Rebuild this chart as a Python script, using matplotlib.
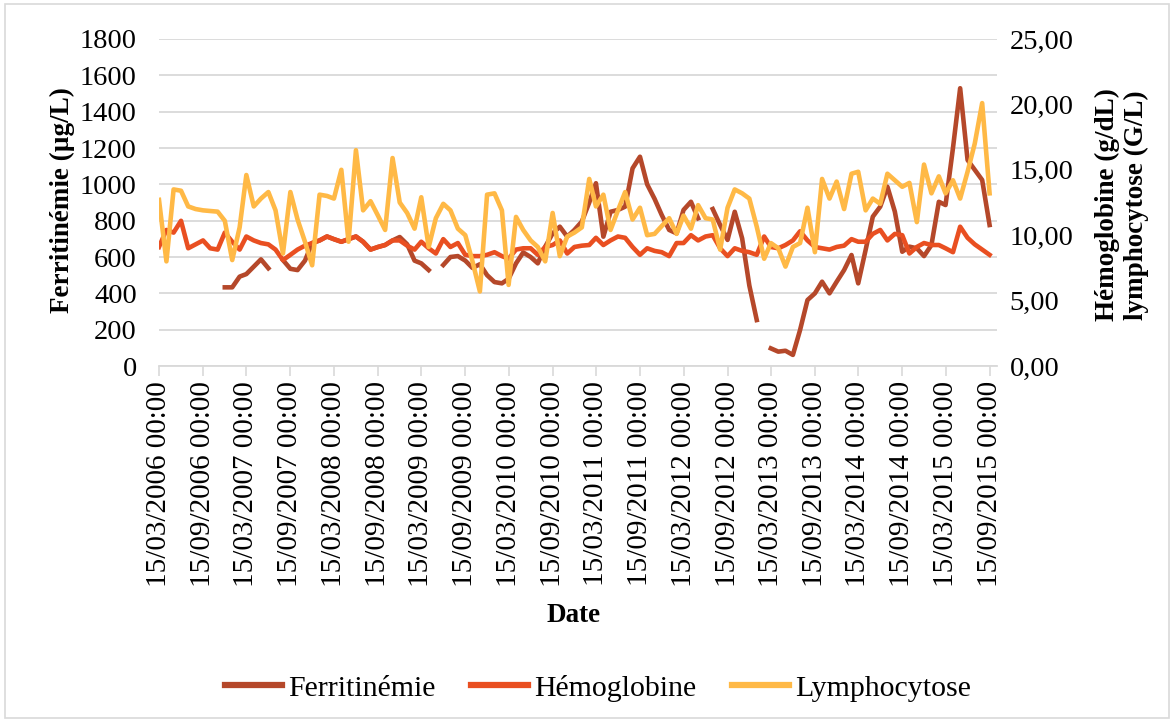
import numpy as np
import pandas as pd
import matplotlib
matplotlib.use('Agg')
import matplotlib.pyplot as plt
import matplotlib.dates as mdates
from matplotlib.ticker import FuncFormatter, MultipleLocator
from matplotlib.patches import Rectangle

# %% data (monthly values, from 15/03/2006)
nan = np.nan

ferritinemie = [
    nan, nan, nan, nan, nan, nan, nan, nan, nan, 433,
    433, 492, 506, 547, 587, 538, nan, 583, 535, 528,
    580, 677, 691, 713, 698, 684, 698, 713, 684, 641,
    655, 666, 691, 710, 670, 580, 565, 528, nan, 556,
    600, 605, 580, 540, 560, 500, 462, 455, 480, 565,
    625, 600, 565, 657, 730, 767, 712, 749, 795, 900,
    1006, 712, 849, 859, 877, 1088, 1152, 1000, 920, 831,
    749, 730, 859, 904, 813, nan, 864, 776, 694, 849,
    702, 443, 253, nan, 97, 79, 84, 61, 198, 363,
    400, 464, 400, 464, 528, 611, 455, 639, 822, 877,
    987, 850, 629, 657, 648, 605, 666, 904, 886, 1200,
    1529, 1134, 1080, 1024, 776,
]

hemoglobine = [
    9.1, 10.4, 10.2, 11.1, 9.0, 9.3, 9.6, 9.0, 8.9, 10.2,
    9.5, 8.9, 9.9, 9.6, 9.4, 9.3, 8.9, 8.1, 8.5, 8.9,
    9.2, 9.4, 9.6, 9.9, 9.7, 9.5, 9.7, 9.9, 9.5, 8.9,
    9.1, 9.25, 9.6, 9.6, 9.2, 8.9, 9.5, 9.0, 8.6, 9.7,
    9.1, 9.4, 8.5, 8.4, 8.4, 8.5, 8.7, 8.4, 8.2, 8.9,
    9.0, 9.0, 8.5, 9.1, 9.25, 9.6, 8.6, 9.1, 9.2, 9.25,
    9.8, 9.25, 9.6, 9.9, 9.8, 9.1, 8.5, 9.0, 8.8, 8.7,
    8.4, 9.4, 9.4, 10.0, 9.6, 9.9, 10.0, 9.0, 8.4, 9.0,
    8.8, 8.7, 8.5, 9.9, 9.1, 9.0, 9.25, 9.6, 10.3, 9.6,
    9.1, 9.0, 8.9, 9.1, 9.2, 9.7, 9.5, 9.5, 10.1, 10.4,
    9.6, 10.1, 10.0, 8.6, 9.1, 9.4, 9.25, 9.25, 9.0, 8.7,
    10.65, 9.8, 9.3, 8.9, 8.5,
]

lymphocytose = [
    12.7, 8.0, 13.5, 13.4, 12.2, 12.0, 11.9, 11.85, 11.8, 11.1,
    8.1, 10.6, 14.6, 12.2, 12.8, 13.3, 11.9, 8.6, 13.3, 11.2,
    9.5, 7.7, 13.1, 13.0, 12.8, 15.0, 9.5, 16.5, 11.9, 12.6,
    11.5, 10.4, 15.9, 12.5, 11.7, 10.5, 12.9, 9.1, 11.3, 12.4,
    11.9, 10.5, 10.0, 8.0, 5.7, 13.1, 13.2, 11.9, 6.2, 11.4,
    10.4, 9.6, 9.1, 8.0, 11.7, 8.4, 9.9, 10.2, 10.6, 14.3,
    12.2, 13.1, 10.4, 11.9, 13.3, 11.2, 12.1, 10.0, 10.1, 10.7,
    11.3, 10.1, 11.5, 10.5, 12.3, 11.3, 11.2, 8.9, 12.1, 13.5,
    13.2, 12.8, 10.65, 8.2, 9.4, 9.0, 7.6, 9.1, 9.4, 12.1,
    8.7, 14.3, 12.8, 14.1, 12.0, 14.7, 14.85, 11.9, 12.8, 12.4,
    14.7, 14.2, 13.7, 14.0, 11.0, 15.4, 13.2, 14.5, 13.2, 14.2,
    12.8, 14.85, 17.0, 20.1, 13.2,
]

dates = [pd.Timestamp(2006 + (2 + i) // 12, (2 + i) % 12 + 1, 15)
         for i in range(len(lymphocytose))]
tick_dates = [pd.Timestamp(2006 + (2 + i) // 12, (2 + i) % 12 + 1, 15)
              for i in range(0, 115, 6)]

# %% style
plt.rcParams['font.family'] = ['Liberation Serif', 'DejaVu Serif']
c_fer = '#B5482A'
c_hb = '#E94F21'
c_ly = '#FFB946'
grid_c = '#D9D9D9'
lw = 3.3

fig = plt.figure(figsize=(11.74, 7.22), dpi=100)
fig.patches.append(Rectangle((5/1174, 4/722), 1164/1174, 714/722, transform=fig.transFigure,
                             fill=False, edgecolor=grid_c, lw=1.2))

ax1 = fig.add_axes([159/1174, 1-366/722, 838/1174, 327/722])
ax2 = ax1.twinx()

l1, = ax1.plot(dates, ferritinemie, color=c_fer, lw=lw, label='Ferritinémie', solid_joinstyle='round')
l2, = ax2.plot(dates, hemoglobine, color=c_hb, lw=lw, label='Hémoglobine', solid_joinstyle='round')
l3, = ax2.plot(dates, lymphocytose, color=c_ly, lw=lw, label='Lymphocytose', solid_joinstyle='round')

ax1.set_ylim(0, 1800)
ax1.yaxis.set_major_locator(MultipleLocator(200))
ax2.set_ylim(0, 25)
ax2.yaxis.set_major_locator(MultipleLocator(5))
ax2.yaxis.set_major_formatter(FuncFormatter(lambda v, p: f'{v:.2f}'.replace('.', ',')))

ax1.set_xlim(dates[0], pd.Timestamp(2015, 10, 16))
ax1.set_xticks(tick_dates)
ax1.xaxis.set_major_formatter(mdates.DateFormatter('%d/%m/%Y %H:%M'))
ax1.tick_params(axis='x', rotation=90, length=7, width=1.2, color=grid_c, pad=4, labelsize=21)
ax1.tick_params(axis='y', length=0, pad=16, labelsize=20.5)
ax2.tick_params(axis='y', length=0, pad=9, labelsize=20.5)

ax1.yaxis.grid(True, color=grid_c, lw=1.3)
ax1.set_axisbelow(True)
for ax in (ax1, ax2):
    for s in ('top', 'left', 'right'):
        ax.spines[s].set_visible(False)
    ax.spines['bottom'].set_color(grid_c)
    ax.spines['bottom'].set_linewidth(1.3)
ax2.spines['bottom'].set_visible(False)

fig.text(62/1174, 1-200/722, 'Ferritinémie (µg/L)', rotation=90, ha='center', va='center',
         fontsize=19.5, fontweight='bold')
fig.text(1122/1174, 1-205/722, 'Hémoglobine (g/dL)\nlymphocytose (G/L)', rotation=90,
         ha='center', va='center', multialignment='center', fontsize=19.5, fontweight='bold',
         linespacing=1.2)
fig.text(574/1174, 1-615/722, 'Date', ha='center', va='center', fontsize=19.5, fontweight='bold')

leg = fig.legend(handles=[l1, l2, l3], loc='center', bbox_to_anchor=(598/1174, 1-688/722), ncol=3,
                 frameon=False, fontsize=21.5, handlelength=1.9, handletextpad=0.2, columnspacing=1.2)
for h in leg.legend_handles:
    h.set_linewidth(4.5)

fig.savefig('out.png', dpi=100)
